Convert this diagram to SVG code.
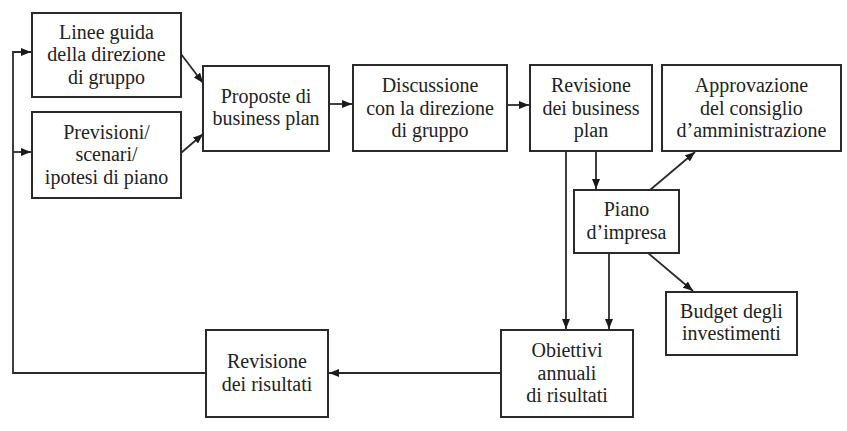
<svg xmlns="http://www.w3.org/2000/svg" width="847" height="431" viewBox="0 0 847 431">
<style>
.box{fill:#fff;stroke:#2a2a2a;stroke-width:2}
.t{font-family:"Liberation Serif","Times New Roman",serif;font-size:20px;fill:#222;text-anchor:middle}
.c{fill:none;stroke:#2a2a2a;stroke-width:1.8}
</style>
<defs>
<marker id="ah" markerUnits="userSpaceOnUse" markerWidth="10" markerHeight="8" refX="10" refY="4" orient="auto">
<path d="M0,0 L10,4 L0,8 z" fill="#1a1a1a"/>
</marker>
</defs>
<rect width="847" height="431" fill="#fff"/>
<g id="connectors">
<path class="c" d="M206,373 H13 V52 H31" marker-end="url(#ah)"/>
<path class="c" d="M13,152 H31" marker-end="url(#ah)"/>
<path class="c" d="M181,54 L203,83" marker-end="url(#ah)"/>
<path class="c" d="M181,153 L203,134" marker-end="url(#ah)"/>
<path class="c" d="M329,104 H352" marker-end="url(#ah)"/>
<path class="c" d="M507,105 H529" marker-end="url(#ah)"/>
<path class="c" d="M596,151 V189" marker-end="url(#ah)"/>
<path class="c" d="M566,151 V329" marker-end="url(#ah)"/>
<path class="c" d="M609,253 V329" marker-end="url(#ah)"/>
<path class="c" d="M650,190 L695,152" marker-end="url(#ah)"/>
<path class="c" d="M648,253 L693,291" marker-end="url(#ah)"/>
<path class="c" d="M501,373 H329" marker-end="url(#ah)"/>
</g>
<g id="linee-guida">
<rect class="box" x="32" y="13" width="149" height="84"/>
<text class="t" x="106.5" y="38.5">Linee guida</text>
<text class="t" x="106.5" y="61">della direzione</text>
<text class="t" x="106.5" y="83.5">di gruppo</text>
</g>
<g id="previsioni">
<rect class="box" x="32" y="112" width="149" height="86"/>
<text class="t" x="106.5" y="138.5">Previsioni/</text>
<text class="t" x="106.5" y="161">scenari/</text>
<text class="t" x="106.5" y="183.5">ipotesi di piano</text>
</g>
<g id="proposte">
<rect class="box" x="203" y="66" width="126" height="85"/>
<text class="t" x="266" y="103">Proposte di</text>
<text class="t" x="266" y="125">business plan</text>
</g>
<g id="discussione">
<rect class="box" x="353" y="65" width="154" height="86"/>
<text class="t" x="430" y="92">Discussione</text>
<text class="t" x="430" y="114.5">con la direzione</text>
<text class="t" x="430" y="137">di gruppo</text>
</g>
<g id="revisione-bp">
<rect class="box" x="530" y="65" width="122" height="86"/>
<text class="t" x="591" y="92">Revisione</text>
<text class="t" x="591" y="114.5">dei business</text>
<text class="t" x="591" y="137">plan</text>
</g>
<g id="approvazione">
<rect class="box" x="662" y="65" width="179" height="86"/>
<text class="t" x="751.5" y="92">Approvazione</text>
<text class="t" x="751.5" y="114.5">del consiglio</text>
<text class="t" x="751.5" y="137">d’amministrazione</text>
</g>
<g id="piano">
<rect class="box" x="574" y="190" width="105" height="63"/>
<text class="t" x="626.5" y="216">Piano</text>
<text class="t" x="626.5" y="238.5">d’impresa</text>
</g>
<g id="budget">
<rect class="box" x="666" y="292" width="131" height="63"/>
<text class="t" x="731.5" y="317.5">Budget degli</text>
<text class="t" x="731.5" y="340">investimenti</text>
</g>
<g id="revisione-risultati">
<rect class="box" x="206" y="330" width="122" height="87"/>
<text class="t" x="267" y="368">Revisione</text>
<text class="t" x="267" y="390.5">dei risultati</text>
</g>
<g id="obiettivi">
<rect class="box" x="501" y="330" width="132" height="87"/>
<text class="t" x="567" y="357">Obiettivi</text>
<text class="t" x="567" y="379.5">annuali</text>
<text class="t" x="567" y="402">di risultati</text>
</g>
</svg>
